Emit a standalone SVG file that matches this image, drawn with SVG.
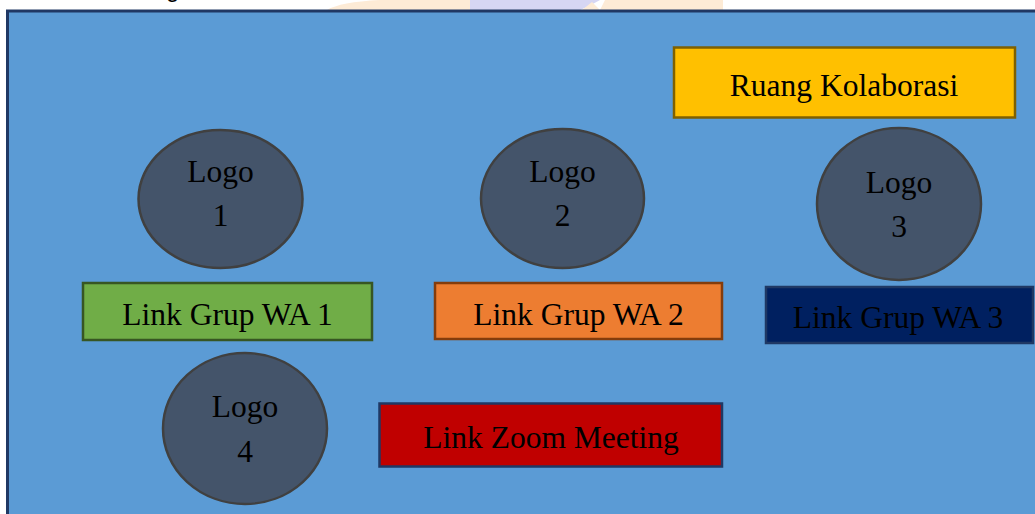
<svg xmlns="http://www.w3.org/2000/svg" width="1035" height="514" viewBox="0 0 1035 514">
  <style>
    .lbl { font-family: "Liberation Serif", "Times New Roman", serif; font-size: 31.5px; fill: #000; text-anchor: middle; }
    .logo { fill: #44546a; stroke: #404040; stroke-width: 2.5; }
    .box { stroke-width: 2.5; }
  </style>
  <rect x="0" y="0" width="1035" height="514" fill="#ffffff"/>
  <!-- faint watermark remnants at top -->
  <g id="watermark" opacity="0.9">
    <path d="M327 10 Q340 2 380 0 L470 0 L470 10 Z" fill="#fde9d2"/>
    <path d="M600 10 L605 0 L723 0 L723 10 Z" fill="#fde9d2"/>
    <path d="M470 0 L600 0 Q590 6 580 10 L470 10 Z" fill="#d2d2f2"/>
    <path d="M582 10 L592 2 L600 10 Z" fill="#fde9d2"/>
  </g>
  <text x="166" y="-3" font-family="Liberation Sans, Arial, sans-serif" font-size="24" fill="#000">g</text>
  <rect id="background" x="7.5" y="11" width="1040" height="520" fill="#5b9bd5" stroke="#203864" stroke-width="3"/>

  <g id="ruang-kolaborasi">
    <rect class="box" x="674" y="47.5" width="341" height="70" fill="#ffc000" stroke="#7f6000"/>
    <text class="lbl" x="844" y="96">Ruang Kolaborasi</text>
  </g>

  <g id="logo1">
    <ellipse class="logo" cx="220.5" cy="199" rx="82" ry="69"/>
    <text class="lbl" x="220.5" y="182">Logo</text>
    <text class="lbl" x="220.5" y="226">1</text>
  </g>
  <g id="logo2">
    <ellipse class="logo" cx="562.5" cy="198.5" rx="81.5" ry="69.5"/>
    <text class="lbl" x="562.5" y="182">Logo</text>
    <text class="lbl" x="562.5" y="226">2</text>
  </g>
  <g id="logo3">
    <ellipse class="logo" cx="899" cy="204" rx="82" ry="76"/>
    <text class="lbl" x="899" y="193">Logo</text>
    <text class="lbl" x="899" y="237">3</text>
  </g>
  <g id="logo4">
    <ellipse class="logo" cx="245" cy="428.5" rx="82" ry="75.5"/>
    <text class="lbl" x="245" y="417">Logo</text>
    <text class="lbl" x="245" y="462">4</text>
  </g>

  <g id="link-wa1">
    <rect class="box" x="83" y="283" width="289" height="57" fill="#70ad47" stroke="#375623"/>
    <text class="lbl" x="227.5" y="325">Link Grup WA 1</text>
  </g>
  <g id="link-wa2">
    <rect class="box" x="435" y="283" width="287" height="56" fill="#ed7d31" stroke="#843c0c"/>
    <text class="lbl" x="578.5" y="325">Link Grup WA 2</text>
  </g>
  <g id="link-wa3">
    <rect class="box" x="766" y="287" width="267" height="56" fill="#002060" stroke="#1f3864"/>
    <text class="lbl" x="898" y="328">Link Grup WA 3</text>
  </g>
  <g id="link-zoom">
    <rect class="box" x="379.5" y="403.5" width="342.5" height="63" fill="#c00000" stroke="#1f3864"/>
    <text class="lbl" x="551" y="448">Link Zoom Meeting</text>
  </g>

  <g id="connectors"></g>
</svg>
